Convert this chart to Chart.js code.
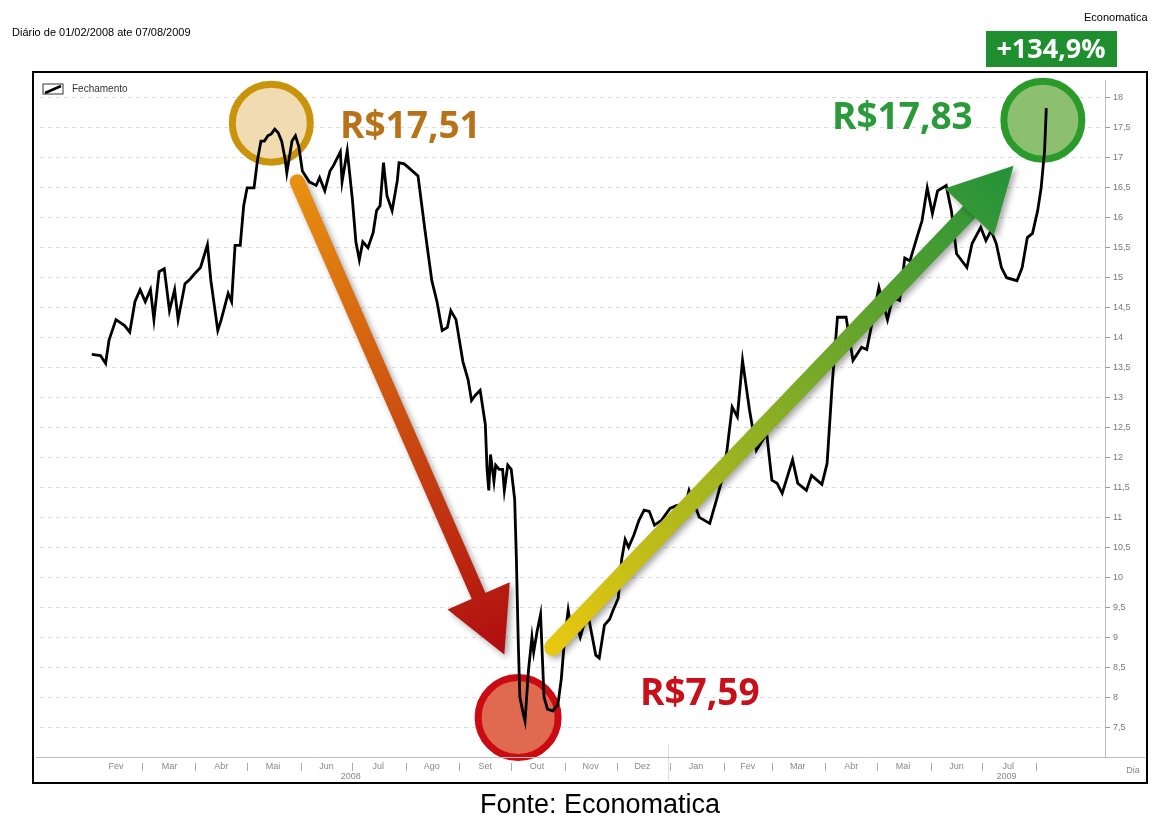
<!DOCTYPE html>
<html>
<head>
<meta charset="utf-8">
<script src="https://cdn.jsdelivr.net/npm/chart.js@4"></script>
<style>
  body { margin: 0; background: #fff; }
  #wrap { width: 1169px; height: 833px; position: relative; }
</style>
</head>
<body>
<div id="wrap"><canvas id="chart" width="1169" height="833"></canvas></div>
<script>
// dias corridos desde 01/02/2008
const dias = [0,5,8,10,14,19,22,25,28,31,34,36,39,42,45,48,50,54,57,60,63,67,69,73,75,79,81,83,86,88,90,94,96,98,100,102,104,106,108,110,112,113,116,118,120,122,126,130,132,135,138,140,144,145,148,151,153,155,157,160,163,165,167,169,171,174,177,178,181,185,189,193,197,200,203,206,208,211,213,215,218,220,222,225,228,229,230,231,233,234,236,238,239,241,243,245,246,247,248,250,251,253,255,256,258,260,262,264,267,270,272,274,276,278,280,283,285,288,292,294,297,300,302,305,307,309,311,314,317,320,323,326,330,335,339,343,346,352,358,362,365,368,371,374,377,381,385,391,394,397,400,406,409,414,417,423,426,429,432,437,441,446,449,452,456,461,464,468,471,474,478,481,484,487,490,495,498,501,507,510,515,518,521,524,527,530,536,539,542,545,548,550,552,553];
const fechamento = [13.72,13.7,13.57,13.96,14.3,14.2,14.09,14.6,14.8,14.6,14.8,14.3,15.1,15.15,14.45,14.8,14.3,14.9,14.98,15.08,15.17,15.55,14.95,14.12,14.3,14.74,14.6,15.54,15.54,16.2,16.5,16.5,16.96,17.28,17.28,17.37,17.4,17.48,17.42,17.28,16.98,16.75,17.28,17.37,17.18,16.78,16.6,16.54,16.67,16.45,16.78,16.87,17.1,16.6,17.12,16.3,15.6,15.3,15.6,15.5,15.75,16.12,16.2,16.92,16.37,16.12,16.62,16.92,16.9,16.8,16.7,15.8,14.95,14.6,14.12,14.17,14.45,14.3,13.95,13.6,13.3,12.95,13.03,13.12,12.55,11.8,11.45,12.05,11.6,11.87,11.8,11.8,11.45,11.87,11.8,11.3,10.3,9.0,8.0,7.72,7.6,8.45,9.0,8.75,9.1,9.38,8.0,7.8,7.77,7.87,8.3,9.0,9.45,9.1,9.3,9.0,9.2,9.3,8.7,8.65,9.2,9.3,9.45,9.65,10.3,10.63,10.5,10.7,10.95,11.12,11.1,10.87,10.95,11.15,11.2,11.1,11.45,11.0,10.9,11.3,11.62,12.12,12.84,12.68,13.62,12.8,12.12,12.4,11.62,11.57,11.4,11.96,11.57,11.45,11.7,11.55,11.9,13.24,14.34,14.34,13.62,13.84,13.8,14.24,14.84,14.3,14.67,14.62,15.33,15.28,15.67,15.95,16.5,16.07,16.45,16.54,16.12,15.4,15.17,15.57,15.84,15.62,15.79,15.57,15.17,15.0,14.95,15.17,15.67,15.74,16.12,16.5,17.12,17.83];
const divisasMes = [29,60,90,121,151,182,213,243,274,304,335,366,394,425,455,486,516,547];
const rotulosMes = ["Fev","Mar","Abr","Mai","Jun","Jul","Ago","Set","Out","Nov","Dez","Jan","Fev","Mar","Abr","Mai","Jun","Jul"];
const meioMes = [14,45,75,105,136,166,197,228,258,289,319,350,380,409,440,470,501,531];
const anos = [{ label: "2008", dia: 150 }, { label: "2009", dia: 530 }];
const divisaAno = 334;

function circulo(ctx, x, y, r, fill, stroke) {
    ctx.beginPath();
    ctx.arc(x, y, r, 0, Math.PI * 2);
    ctx.fillStyle = fill;
    ctx.fill();
    ctx.lineWidth = 7;
    ctx.strokeStyle = stroke;
    ctx.stroke();
}

function seta(ctx, x1, y1, x2, y2, c1, c2, w) {
    const ang = Math.atan2(y2 - y1, x2 - x1);
    const head = 64, hw = 34;
    const bx = x2 - head * Math.cos(ang), by = y2 - head * Math.sin(ang);
    const g = ctx.createLinearGradient(x1, y1, x2, y2);
    g.addColorStop(0, c1);
    g.addColorStop(1, c2);
    ctx.save();
    ctx.shadowColor = 'rgba(0,0,0,0.35)';
    ctx.shadowBlur = 6;
    ctx.shadowOffsetX = 3;
    ctx.shadowOffsetY = 3;
    ctx.strokeStyle = g;
    ctx.fillStyle = g;
    ctx.lineWidth = w;
    ctx.lineCap = 'round';
    ctx.beginPath();
    ctx.moveTo(x1, y1);
    ctx.lineTo(bx, by);
    ctx.stroke();
    const px = -Math.sin(ang), py = Math.cos(ang);
    ctx.beginPath();
    ctx.moveTo(x2, y2);
    ctx.lineTo(bx + px * hw, by + py * hw);
    ctx.lineTo(bx - px * hw, by - py * hw);
    ctx.closePath();
    ctx.fill();
    ctx.restore();
}

const moldura = {
    id: 'moldura',
    beforeDatasetsDraw(chart) {
        const { ctx, scales: { x, y }, chartArea: a } = chart;
        ctx.save();
        // legenda
        ctx.strokeStyle = '#333';
        ctx.lineWidth = 1;
        ctx.strokeRect(a.left + 3, a.top + 4, 20, 10);
        ctx.beginPath();
        ctx.lineWidth = 2.5;
        ctx.moveTo(a.left + 5, a.top + 13);
        ctx.lineTo(a.left + 21, a.top + 6);
        ctx.strokeStyle = '#000';
        ctx.stroke();
        ctx.fillStyle = '#333';
        ctx.font = '10px "Liberation Sans", Arial';
        ctx.textBaseline = 'middle';
        ctx.fillText('Fechamento', a.left + 32, a.top + 9);
        // círculos
        circulo(ctx, x.getPixelForValue(104), y.getPixelForValue(17.58), 39, '#f0dcb0', '#c9930c');
        circulo(ctx, x.getPixelForValue(247), y.getPixelForValue(7.66), 40, '#e06a50', '#cc0a12');
        circulo(ctx, x.getPixelForValue(551), y.getPixelForValue(17.63), 39, '#8cc070', '#2a9a2a');
        ctx.restore();
    },
    afterDatasetsDraw(chart) {
        const { ctx, scales: { x, y }, chartArea: a } = chart;
        ctx.save();
        seta(ctx, x.getPixelForValue(119), y.getPixelForValue(16.6), x.getPixelForValue(239), y.getPixelForValue(8.71), '#e89010', '#b00c10', 15);
        seta(ctx, x.getPixelForValue(267), y.getPixelForValue(8.83), x.getPixelForValue(534), y.getPixelForValue(16.87), '#e8c810', '#22923a', 17);
        ctx.font = 'bold 37px "Open Sans", Lato, sans-serif';
        ctx.textBaseline = 'middle';
        ctx.fillStyle = '#b8731a';
        ctx.fillText('R$17,51', 340, 127);
        ctx.fillStyle = '#c8101a';
        ctx.fillText('R$7,59', 640, 694);
        ctx.fillStyle = '#2a9a3a';
        ctx.fillText('R$17,83', 832, 118);
        // eixo x: meses e anos
        ctx.fillStyle = '#888';
        ctx.font = '9px "Liberation Sans", Arial';
        ctx.textAlign = 'center';
        meioMes.forEach((d, i) => ctx.fillText(rotulosMes[i], x.getPixelForValue(d), a.bottom + 10));
        anos.forEach(o => ctx.fillText(o.label, x.getPixelForValue(o.dia), a.bottom + 20));
        ctx.strokeStyle = '#aaa';
        ctx.lineWidth = 1;
        divisasMes.forEach(d => {
            const px = Math.round(x.getPixelForValue(d)) + 0.5;
            ctx.beginPath();
            ctx.moveTo(px, a.bottom + 6);
            ctx.lineTo(px, a.bottom + 14);
            ctx.stroke();
        });
        const pa = Math.round(x.getPixelForValue(divisaAno)) + 0.5;
        ctx.strokeStyle = '#ddd';
        ctx.beginPath();
        ctx.moveTo(pa, a.bottom - 12);
        ctx.lineTo(pa, a.bottom + 24);
        ctx.stroke();
        ctx.fillText('Dia', a.right + 28, a.bottom + 14);
        // linha base
        ctx.strokeStyle = '#bbb';
        ctx.beginPath();
        ctx.moveTo(a.left - 4, a.bottom + 0.5);
        ctx.lineTo(a.right + 40, a.bottom + 0.5);
        ctx.stroke();
        // moldura externa
        ctx.strokeStyle = '#000';
        ctx.lineWidth = 2;
        ctx.strokeRect(33, 72, 1114, 711);
        // textos de página
        ctx.textAlign = 'left';
        ctx.fillStyle = '#000';
        ctx.font = '11px "Liberation Sans", Arial';
        ctx.fillText('Diário de 01/02/2008 ate 07/08/2009', 12, 33);
        ctx.fillText('Economatica', 1084, 18);
        ctx.fillStyle = '#1e8e2e';
        ctx.fillRect(986, 31, 131, 36);
        ctx.fillStyle = '#fff';
        ctx.font = 'bold 27px "Open Sans", Lato, sans-serif';
        ctx.textAlign = 'center';
        ctx.fillText('+134,9%', 1051, 50);
        ctx.fillStyle = '#000';
        ctx.font = '27px "Liberation Sans", Arial';
        ctx.fillText('Fonte: Economatica', 600, 806);
        ctx.restore();
    }
};

new Chart(document.querySelector('#chart').getContext('2d'), {
    type: 'line',
    data: {
        datasets: [{
            label: 'Fechamento',
            data: dias.map((d, i) => ({ x: d, y: fechamento[i] })),
            borderColor: '#000',
            borderWidth: 2.8,
            pointRadius: 0,
            tension: 0
        }]
    },
    options: {
        responsive: false,
        animation: false,
        layout: { padding: { left: 40, right: 22, top: 80, bottom: 50 } },
        plugins: { legend: { display: false }, tooltip: { enabled: false } },
        scales: {
            x: {
                type: 'linear',
                min: -30,
                max: 587,
                grid: { display: false },
                border: { display: false },
                ticks: { display: false },
                afterFit: s => { s.height = 26; }
            },
            y: {
                position: 'right',
                min: 7.0,
                max: 18.3,
                afterBuildTicks: s => {
                    s.ticks = [];
                    for (let v = 7.5; v <= 18.01; v += 0.5) s.ticks.push({ value: v });
                },
                afterFit: s => { s.width = 42; },
                grid: {
                    color: '#ddd',
                    tickColor: '#999',
                    tickLength: 5,
                    drawTicks: true
                },
                border: { color: '#bbb', dash: [4, 4], width: 1 },
                ticks: {
                    color: '#777',
                    font: { size: 9, family: 'Liberation Sans' },
                    padding: 3,
                    callback: v => String(v).replace('.', ',')
                }
            }
        }
    },
    plugins: [moldura]
});
</script>
</body>
</html>
